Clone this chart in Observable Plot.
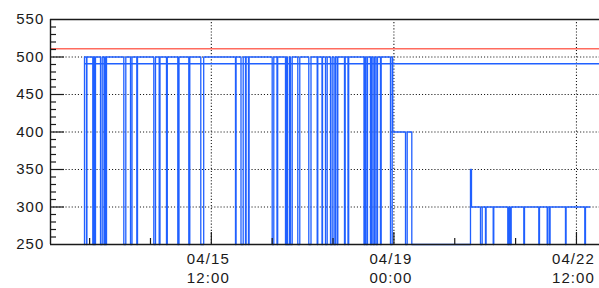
<!DOCTYPE html>
<html>
<head>
<meta charset="utf-8">
<script src="https://cdn.jsdelivr.net/npm/d3@7"></script>
<script src="https://cdn.jsdelivr.net/npm/@observablehq/plot@0.6"></script>
<style>
  html, body { margin: 0; padding: 0; background: #fff; }
  #chart svg text { letter-spacing: 1.1px; }
</style>
</head>
<body>
<div id="chart"></div>
<script>
// ---- time origin: hours are counted from 04/12 10:00 (UTC) ----
const T0 = Date.UTC(2024, 3, 12, 10, 0);
const HOUR = 3600e3;
const at = h => new Date(T0 + h * HOUR);

const xDomainHours = [0, 252.6];

// ---- y axis ----
const yTickLabels = [250, 300, 350, 400, 450, 500, 550];
const yGridLines = [300, 350, 400, 450, 500];
const yMinorTicks = d3.range(260, 550, 10).filter(v => v % 50 !== 0);

// ---- x axis (hours from origin) ----
const xMajorHours = [74, 158, 242];          // 04/15 12:00, 04/19 00:00, 04/22 12:00
const xMinorHours = [18, 46, 102, 130, 186, 214]; // every 28 h

// ---- reference lines ----
const redLevel = 511;
const blueLevel = 491;
const blueLevelStart = 15.64;

// ---- measured series: level phases ----
const seriesStart = 15.60;
const levelStart = [15.64, 157.45, 166.24, 193.24, 193.70];
const levelValue = [500, 400, 250, 350, 300];
const seriesEnd = 248.13;
const dropValue = 250;

// short drops to the floor (start hour, end hour)
const drops = [
  [16.56, 16.75], [19.46, 19.92], [20.24, 20.70], [23.01, 23.79], [24.62, 25.08],
  [25.31, 25.77], [33.73, 34.65], [36.81, 37.50], [39.71, 40.03], [47.53, 48.31],
  [50.01, 50.38], [53.37, 53.74], [58.57, 59.12], [63.63, 64.09], [69.15, 70.49],
  [85.12, 85.39], [87.65, 88.66], [89.72, 90.00], [91.10, 91.38], [102.00, 102.74],
  [104.21, 104.53], [108.12, 108.72], [109.04, 109.96], [110.42, 111.21], [113.78, 114.70],
  [118.84, 119.86], [122.71, 122.98], [124.92, 125.15], [126.53, 127.31], [128.83, 129.61],
  [130.44, 131.13], [131.91, 132.19], [135.27, 135.59], [136.88, 137.20], [144.24, 144.70],
  [145.16, 145.85], [147.23, 147.69], [148.38, 149.07], [149.76, 150.45], [151.83, 152.15],
  [156.43, 157.22],
  [163.34, 164.12],
  [197.84, 198.62], [200.14, 200.42], [203.69, 203.96], [210.40, 210.96], [211.42, 211.97],
  [217.77, 218.09], [224.67, 224.99], [228.53, 228.81], [229.59, 229.87], [236.95, 237.23],
  [245.83, 246.15]
];

// build step series from the phases and drops
const pts = [{h: seriesStart, v: dropValue}];
levelStart.forEach((s, i) => {
  const e = i + 1 < levelStart.length ? levelStart[i + 1] : Infinity;
  pts.push({h: s, v: levelValue[i]});
  drops.filter(([a]) => a >= s && a < e).forEach(([a, b]) => {
    pts.push({h: a, v: dropValue}, {h: b, v: levelValue[i]});
  });
});
pts.push({h: seriesEnd, v: 300});
pts.sort((a, b) => a.h - b.h);
const series = pts.map(p => ({t: at(p.h), v: p.v}));

const INK = "#1a1a1a";
const BLUE = "#2060ff";
const RED = "#ff6b5e";
const W = 599, H = 288, ML = 50, MR = 0, MT = 19, MB = 44;
const FW = W - ML - MR, FH = H - MT - MB;

const chart = Plot.plot({
  width: W, height: H,
  marginLeft: ML, marginRight: MR, marginTop: MT, marginBottom: MB,
  style: {fontFamily: "'Liberation Sans', Arial, sans-serif", background: "#fff", color: INK, overflow: "visible"},
  x: {type: "utc", domain: xDomainHours.map(at)},
  y: {domain: [250, 550]},
  marks: [
    // dotted grid
    Plot.ruleY(yGridLines, {stroke: INK, strokeWidth: 1.1, strokeDasharray: "1.1,2"}),
    Plot.ruleX(xMajorHours.map(at), {stroke: INK, strokeWidth: 1.1, strokeDasharray: "1.1,2"}),
    // red limit
    Plot.ruleY([redLevel], {stroke: RED, strokeWidth: 1.5}),
    // blue constant
    Plot.ruleY([blueLevel], {x1: at(blueLevelStart), x2: at(xDomainHours[1]), stroke: BLUE, strokeWidth: 1.4}),
    // blue step series
    Plot.line(series, {x: "t", y: "v", curve: "step-after", stroke: BLUE, strokeWidth: 1.3}),
    // frame
    Plot.ruleY([550], {stroke: INK, strokeWidth: 1.6}),
    Plot.ruleY([250], {stroke: INK, strokeWidth: 1.6}),
    Plot.ruleX([at(xDomainHours[0])], {stroke: INK, strokeWidth: 1.4}),
    // inward ticks
    Plot.ruleY(yMinorTicks, {insetRight: FW - 6, stroke: INK, strokeWidth: 1.2}),
    Plot.ruleY(yGridLines, {insetRight: FW - 14, stroke: INK, strokeWidth: 1.2}),
    Plot.ruleX(xMinorHours.map(at), {insetTop: FH - 6, stroke: INK, strokeWidth: 1.2}),
    Plot.ruleX(xMajorHours.map(at), {insetTop: FH - 12, stroke: INK, strokeWidth: 1.2}),
    // labels
    Plot.axisY(yTickLabels, {tickSize: 0, tickPadding: 6, fontSize: 15, label: null, fill: INK}),
    Plot.axisX(xMajorHours.map(at), {tickSize: 0, tickPadding: 6, fontSize: 15, lineHeight: 1.25,
      tickFormat: d3.utcFormat("%m/%d\n%H:%M"), label: null, dx: -3, fill: INK})
  ]
});
document.getElementById("chart").appendChild(chart);
</script>
</body>
</html>
